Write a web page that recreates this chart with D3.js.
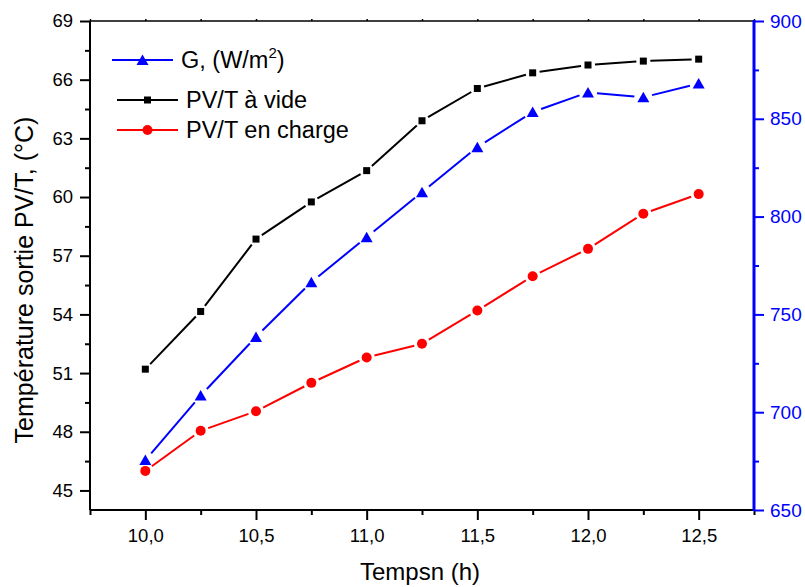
<!DOCTYPE html>
<html>
<head>
<meta charset="utf-8">
<script src="https://cdn.jsdelivr.net/npm/d3@7"></script>
<style>
  body { margin: 0; background: #fff; }
  text { font-family: "Liberation Sans", Arial, sans-serif; }
</style>
</head>
<body>
<div id="chart"></div>
<script>
// time of day (h)
const times = [10, 10.25, 10.5, 10.75, 11, 11.25, 11.5, 11.75, 12, 12.25, 12.5];
// outlet temperature, no load (°C)
const pvtVide = [51.2, 54.15, 57.85, 59.75, 61.35, 63.9, 65.55, 66.35, 66.75, 66.95, 67.05];
// outlet temperature, under load (°C)
const pvtCharge = [46.0, 48.05, 49.05, 50.5, 51.8, 52.5, 54.2, 55.95, 57.35, 59.15, 60.15];
// irradiance G (W/m2)
const irradiance = [675.5, 708.5, 738.5, 766.5, 789.5, 812.5, 835.5, 853.5, 863.5, 861, 868];

const leftTicks = [45, 48, 51, 54, 57, 60, 63, 66, 69];
const leftMinor = [46.5, 49.5, 52.5, 55.5, 58.5, 61.5, 64.5, 67.5];
const rightTicks = [650, 700, 750, 800, 850, 900];
const rightMinor = [675, 725, 775, 825, 875];
const xTicks = [10, 10.5, 11, 11.5, 12, 12.5];
const xMinor = [9.75, 10.25, 10.75, 11.25, 11.75, 12.25, 12.75];

const width = 805;
const height = 587;
const margin = { top: 21, right: 51, bottom: 77, left: 90 };
const innerW = width - margin.left - margin.right;
const innerH = height - margin.top - margin.bottom;

const BLUE = '#0000ff';
const RED = '#ff0000';

const svg = d3.select('#chart')
  .append('svg')
    .attr('width', width)
    .attr('height', height);

const g = svg.append('g')
    .attr('transform', 'translate(' + margin.left + ',' + margin.top + ')');

const xScale = d3.scaleLinear().domain([9.75, 12.75]).range([0, innerW]);
const yLeft = d3.scaleLinear().domain([44, 69]).range([innerH, 0]);
const yRight = d3.scaleLinear().domain([650, 900]).range([innerH, 0]);

const commaFmt = (f) => (d) => d3.format(f)(d).replace('.', ',');

function styleAxis (sel, color, size) {
  sel.select('.domain').remove();
  sel.selectAll('line').attr('stroke', color).attr('stroke-width', 2);
  sel.selectAll('text')
    .attr('fill', color)
    .style('font-family', '"Liberation Sans", Arial, sans-serif')
    .style('font-size', size + 'px');
}

// bottom axis
g.append('g')
  .attr('transform', 'translate(0,' + innerH + ')')
  .call(d3.axisBottom(xScale).tickValues(xTicks).tickSize(10).tickPadding(9).tickFormat(commaFmt('.1f')))
  .call((s) => styleAxis(s, '#000', 18.5));
g.append('g')
  .attr('transform', 'translate(0,' + innerH + ')')
  .call(d3.axisBottom(xScale).tickValues(xMinor).tickSize(5).tickFormat(''))
  .call((s) => styleAxis(s, '#000', 18));

// top axis (small ticks only)
g.append('g')
  .call(d3.axisTop(xScale).tickValues(xTicks.concat(xMinor)).tickSize(2).tickFormat(''))
  .call((s) => styleAxis(s, '#000', 18))
  .selectAll('line').attr('stroke-width', 1.5);

// left axis
g.append('g')
  .call(d3.axisLeft(yLeft).tickValues(leftTicks).tickSize(10).tickPadding(7))
  .call((s) => styleAxis(s, '#000', 18.5));
g.append('g')
  .call(d3.axisLeft(yLeft).tickValues(leftMinor).tickSize(5).tickFormat(''))
  .call((s) => styleAxis(s, '#000', 18));

// right axis
g.append('g')
  .attr('transform', 'translate(' + innerW + ',0)')
  .call(d3.axisRight(yRight).tickValues(rightTicks).tickSize(10).tickPadding(6))
  .call((s) => styleAxis(s, BLUE, 19));
g.append('g')
  .attr('transform', 'translate(' + innerW + ',0)')
  .call(d3.axisRight(yRight).tickValues(rightMinor).tickSize(5).tickFormat(''))
  .call((s) => styleAxis(s, BLUE, 19));

// frame lines
g.append('line').attr('x1', 0).attr('x2', innerW).attr('y1', 0).attr('y2', 0)
  .attr('stroke', '#000').attr('stroke-width', 1.5);
g.append('line').attr('x1', 0).attr('x2', innerW).attr('y1', innerH).attr('y2', innerH)
  .attr('stroke', '#000').attr('stroke-width', 2);
g.append('line').attr('x1', 0).attr('x2', 0).attr('y1', 0).attr('y2', innerH)
  .attr('stroke', '#000').attr('stroke-width', 2);
g.append('line').attr('x1', innerW).attr('x2', innerW).attr('y1', -0.75).attr('y2', innerH + 1)
  .attr('stroke', BLUE).attr('stroke-width', 3);

// markers
function drawMarker (sel, shape, cx, cy, color) {
  if (shape === 'square') {
    sel.append('rect')
      .attr('x', cx - 3.5).attr('y', cy - 3.5)
      .attr('width', 7).attr('height', 7)
      .attr('fill', color);
  } else if (shape === 'circle') {
    sel.append('circle')
      .attr('cx', cx).attr('cy', cy).attr('r', 5)
      .attr('fill', color);
  } else {
    sel.append('path')
      .attr('d', 'M' + cx + ',' + (cy - 5.5) + 'L' + (cx + 6) + ',' + (cy + 5) + 'L' + (cx - 6) + ',' + (cy + 5) + 'Z')
      .attr('fill', color);
  }
}

// line segments stop short of the markers, like the original plot
function drawSeries (values, yScale, color, shape, gap) {
  const pts = times.map((t, i) => [xScale(t), yScale(values[i])]);
  const s = g.append('g');
  for (let i = 0; i < pts.length - 1; i++) {
    const [x0, y0] = pts[i];
    const [x1, y1] = pts[i + 1];
    const len = Math.hypot(x1 - x0, y1 - y0);
    const ux = (x1 - x0) / len;
    const uy = (y1 - y0) / len;
    s.append('line')
      .attr('x1', x0 + ux * gap).attr('y1', y0 + uy * gap)
      .attr('x2', x1 - ux * gap).attr('y2', y1 - uy * gap)
      .attr('stroke', color)
      .attr('stroke-width', 2);
  }
  pts.forEach(([cx, cy]) => drawMarker(s, shape, cx, cy, color));
}

drawSeries(pvtVide, yLeft, '#000', 'square', 7);
drawSeries(pvtCharge, yLeft, RED, 'circle', 8);
drawSeries(irradiance, yRight, BLUE, 'triangle', 9);

// legend
const legend = [
  { x: 112, y: 60, color: BLUE, shape: 'triangle', label: 'G, (W/m', sup: '2', tail: ')' },
  { x: 117, y: 100, color: '#000', shape: 'square', label: 'PV/T à vide' },
  { x: 117, y: 130, color: RED, shape: 'circle', label: 'PV/T en charge' }
];
legend.forEach((d) => {
  svg.append('line')
    .attr('x1', d.x).attr('x2', d.x + 61)
    .attr('y1', d.y).attr('y2', d.y)
    .attr('stroke', d.color).attr('stroke-width', 2);
  drawMarker(svg, d.shape, d.x + 30.5, d.y, d.color);
  const t = svg.append('text')
    .attr('x', d.x + 69)
    .attr('y', d.y + 8)
    .style('font-size', '23.5px')
    .attr('fill', '#000')
    .text(d.label);
  if (d.sup) {
    t.append('tspan').attr('dy', -10).style('font-size', '15px').text(d.sup);
    t.append('tspan').attr('dy', 10).text(d.tail);
  }
});

// axis titles
svg.append('text')
  .attr('x', 420)
  .attr('y', 580)
  .style('text-anchor', 'middle')
  .style('font-size', '24px')
  .text('Tempsn (h)');

svg.append('text')
  .attr('transform', 'translate(33,280) rotate(-90)')
  .style('text-anchor', 'middle')
  .style('font-size', '25px')
  .text('Température sortie PV/T, (°C)');
</script>
</body>
</html>
